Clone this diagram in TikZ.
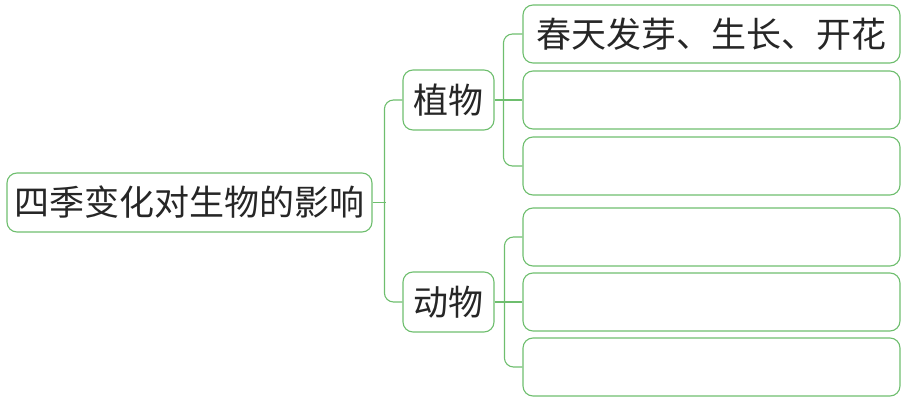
\documentclass[tikz,border=0pt]{standalone}
\usepackage{fontspec}
\newfontfamily\cjk{Noto Sans CJK SC}
\definecolor{lg}{RGB}{110,190,110}
\tikzset{
  box/.style={draw=lg, line width=1.1pt, rounded corners=10pt, inner sep=0pt, align=center,
    font=\cjk\fontsize{35}{40}\selectfont, text=black!85},
  conn/.style={draw=lg, line width=1.1pt, rounded corners=9pt},
}
\begin{document}
\begin{tikzpicture}[x=1pt,y=-1pt]
\useasboundingbox (0,0) rectangle (913,401);
\node[box, minimum width=365pt, minimum height=59pt] (root) at (189.5,202.5) {四季变化对生物的影响};
\node[box, minimum width=91pt, minimum height=60pt] (zw) at (448.5,100) {植物};
\node[box, minimum width=91pt, minimum height=60pt] (dw) at (448.5,302) {动物};
\node[box, minimum width=377pt, minimum height=58pt] (b1) at (711.5,34) {春天发芽、生长、开花};
\node[box, minimum width=377pt, minimum height=58pt] (b2) at (711.5,100) {};
\node[box, minimum width=377pt, minimum height=58pt] (b3) at (711.5,166) {};
\node[box, minimum width=377pt, minimum height=58pt] (b4) at (711.5,237) {};
\node[box, minimum width=377pt, minimum height=58pt] (b5) at (711.5,302) {};
\node[box, minimum width=377pt, minimum height=58pt] (b6) at (711.5,367) {};
% root to level 1
\draw[conn] (zw.west) -- ++(-18,0) |- (dw.west);
\draw[conn] (root.east) -- ++(13,0);
% plants
\draw[conn] (b1.west) -- ++(-19,0) |- (b3.west);
\draw[conn] (zw.east) -- (b2.west);
% animals
\draw[conn] (b4.west) -- ++(-18,0) |- (b6.west);
\draw[conn] (dw.east) -- (b5.west);
\end{tikzpicture}
\end{document}
